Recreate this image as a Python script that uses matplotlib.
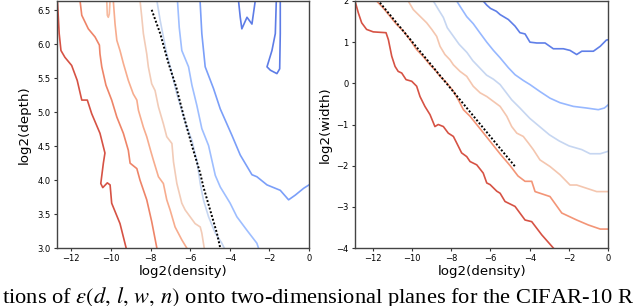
import numpy as np
import matplotlib
matplotlib.use("Agg")
import matplotlib.pyplot as plt

# ---------------- data ----------------
x_ticks = [-12, -10, -8, -6, -4, -2, 0]
left_yticks = [3.0, 3.5, 4.0, 4.5, 5.0, 5.5, 6.0, 6.5]
right_yticks = [-4, -3, -2, -1, 0, 1, 2]

# Left panel: log2(density) vs log2(depth) contour lines
L1_x = [-12.70, -12.61, -12.52, -12.32, -11.98, -11.70, -11.47, -11.19, -10.97, -10.55, -10.30, -10.38, -10.51, -10.41, -10.18, -10.04, -9.96, -9.54, -9.23]
L1_y = [6.65, 6.16, 5.91, 5.81, 5.69, 5.47, 5.18, 5.18, 4.98, 4.69, 4.40, 4.25, 3.95, 3.89, 3.96, 3.93, 3.66, 3.36, 3.00]
L2_x = [-11.56, -11.47, -11.14, -10.80, -10.58, -10.55, -10.46, -10.25, -9.96, -9.70, -9.37, -9.12, -9.03, -8.69, -8.53, -8.19, -7.94, -7.68]
L2_y = [6.65, 6.43, 6.23, 6.11, 5.99, 5.86, 5.67, 5.40, 5.18, 4.93, 4.69, 4.44, 4.25, 4.17, 4.00, 3.71, 3.39, 3.00]
L3_x = [-9.88, -9.79, -9.70, -9.54, -9.37, -9.12, -8.87, -8.69, -8.61, -8.36, -8.19, -7.98, -7.85, -7.60, -7.35, -7.18, -7.01, -6.76, -6.42, -6.17]
L3_y = [6.65, 6.30, 6.06, 5.91, 5.72, 5.47, 5.27, 5.18, 5.03, 4.78, 4.64, 4.42, 4.29, 4.05, 3.95, 3.71, 3.56, 3.31, 3.12, 3.00]
L3b_x = [-10.21, -10.18, -10.13, -10.08, -10.04]
L3b_y = [6.65, 6.43, 6.40, 6.45, 6.65]
L4_x = [-8.53, -8.44, -8.36, -8.19, -8.11, -7.94, -7.77, -7.60, -7.35, -7.18, -6.92, -6.84, -6.67, -6.42, -6.25, -6.00, -5.75, -5.49, -5.41, -5.29]
L4_y = [6.65, 6.40, 6.16, 5.86, 5.67, 5.42, 5.32, 5.08, 4.83, 4.64, 4.54, 4.27, 3.95, 3.66, 3.56, 3.46, 3.36, 3.31, 3.22, 3.00]
L5_x = [-7.68, -7.51, -7.35, -7.18, -6.92, -6.67, -6.42, -6.17, -5.91, -5.75, -5.66, -5.49, -5.33, -5.07, -4.73, -4.40, -4.28]
L5_y = [6.65, 6.35, 6.11, 5.86, 5.57, 5.27, 5.03, 4.78, 4.59, 4.39, 4.29, 3.95, 3.71, 3.46, 3.22, 3.07, 3.00]
L6_x = [-6.64, -6.55, -6.42, -6.08, -5.91, -5.66, -5.41, -5.07, -4.73, -4.48, -3.98, -3.64, -3.13, -2.63, -2.55]
L6_y = [6.65, 6.25, 5.91, 5.67, 5.40, 5.10, 4.76, 4.51, 4.07, 3.90, 3.66, 3.46, 3.26, 3.07, 3.00]
L7_x = [-5.50, -5.41, -5.24, -4.82, -4.48, -3.89, -3.47, -2.88, -2.63, -2.12, -1.45, -1.03, -0.69, -0.27, 0.0]
L7_y = [6.65, 6.16, 5.67, 5.35, 5.05, 4.66, 4.37, 4.08, 4.05, 3.93, 3.85, 3.71, 3.78, 3.88, 3.93]
L8a_x = [-3.56, -3.47, -3.39, -3.13, -2.88, -2.71]
L8a_y = [6.65, 6.40, 6.23, 6.40, 6.30, 6.65]
L8b_x = [-1.65, -1.70, -1.87, -2.12, -1.95, -1.62, -1.48, -1.45, -1.45]
L8b_y = [6.65, 6.16, 5.91, 5.67, 5.62, 5.57, 5.64, 6.16, 6.65]
Ldot_x = [-7.94, -7.51, -7.09, -6.70, -6.34, -5.91, -5.49, -5.33, -4.99, -4.65, -4.48]
Ldot_y = [6.51, 6.16, 5.72, 5.37, 4.96, 4.51, 4.10, 3.90, 3.56, 3.22, 3.00]

# Right panel: log2(density) vs log2(width) contour lines
R1_x = [-12.90, -12.73, -12.56, -12.31, -11.97, -11.32, -11.20, -11.03, -10.86, -10.70, -10.52, -10.30, -10.01, -9.76, -9.59, -9.34, -9.08, -8.83, -8.66, -8.40, -8.15, -7.89, -7.72, -7.47, -7.21, -7.04, -6.70, -6.37, -6.19, -6.02, -5.68, -5.51, -5.26, -4.75, -4.24, -3.90, -3.39, -2.80]
R1_y = [2.00, 1.71, 1.47, 1.31, 1.25, 1.23, 1.06, 0.66, 0.41, 0.29, 0.25, 0.09, 0.05, -0.07, -0.32, -0.56, -0.76, -1.05, -1.00, -1.05, -1.21, -1.29, -1.45, -1.69, -1.78, -1.90, -1.98, -2.18, -2.42, -2.46, -2.62, -2.67, -2.87, -2.99, -3.32, -3.36, -3.68, -4.00]
R2_x = [-11.80, -11.46, -11.12, -10.78, -10.44, -10.10, -9.76, -9.42, -9.08, -8.83, -8.57, -8.23, -7.89, -7.64, -7.38, -7.04, -6.50, -6.00, -5.50, -5.00, -4.60, -4.24, -3.90, -3.73, -2.97, -2.37, -1.61, -1.02, -0.41, 0.0]
R2_y = [2.00, 1.83, 1.63, 1.43, 1.27, 1.06, 0.82, 0.65, 0.45, 0.33, 0.17, 0.01, -0.19, -0.40, -0.64, -0.80, -1.12, -1.42, -1.72, -2.00, -2.25, -2.38, -2.38, -2.63, -2.75, -3.15, -3.32, -3.44, -3.54, -3.54]
R3_x = [-10.19, -9.93, -9.59, -9.25, -8.99, -8.74, -8.57, -8.32, -8.06, -7.89, -7.55, -7.21, -6.88, -6.53, -6.19, -5.85, -5.51, -5.17, -4.92, -4.66, -4.33, -4.07, -3.82, -3.48, -2.97, -2.46, -1.95, -1.61, -1.10, -0.59, 0.0]
R3_y = [2.00, 1.79, 1.63, 1.47, 1.31, 1.14, 0.90, 0.70, 0.57, 0.45, 0.29, 0.17, -0.07, -0.23, -0.32, -0.44, -0.56, -0.80, -1.05, -1.21, -1.29, -1.45, -1.61, -1.86, -2.02, -2.22, -2.47, -2.47, -2.55, -2.63, -2.63]
R4_x = [-8.91, -8.66, -8.40, -8.20, -7.90, -7.60, -7.20, -6.90, -6.50, -6.20, -5.85, -5.51, -4.92, -4.50, -4.00, -3.50, -3.00, -2.50, -2.00, -1.35, -0.93, -0.41, 0.0]
R4_y = [2.00, 1.80, 1.60, 1.35, 1.15, 0.95, 0.75, 0.55, 0.35, 0.20, 0.10, -0.03, -0.40, -0.60, -0.85, -1.05, -1.25, -1.40, -1.52, -1.61, -1.71, -1.71, -1.65]
R5_x = [-7.72, -7.55, -7.21, -6.88, -6.53, -6.19, -5.85, -5.51, -5.09, -4.75, -4.33, -3.99, -3.48, -2.97, -2.46, -1.78, -1.10, -0.51, -0.20, 0.0]
R5_y = [2.00, 1.87, 1.62, 1.45, 1.22, 1.00, 0.80, 0.62, 0.38, 0.21, 0.07, -0.03, -0.20, -0.36, -0.47, -0.56, -0.60, -0.64, -0.60, -0.52]
R6_x = [-6.37, -6.19, -6.00, -5.70, -5.51, -5.09, -4.75, -4.50, -4.24, -3.99, -3.64, -3.22, -2.80, -2.29, -1.95, -1.61, -1.35, -0.76, -0.41, -0.10, 0.0]
R6_y = [2.00, 1.90, 1.82, 1.75, 1.67, 1.55, 1.39, 1.23, 1.20, 1.00, 0.98, 0.98, 0.84, 0.84, 0.80, 0.70, 0.78, 0.78, 0.90, 1.05, 1.06]
Rdot_x = [-11.63, -4.75]
Rdot_y = [1.96, -2.02]

caption = r"tions of $\epsilon(d,\,l,\,w,\,n)$ onto two-dimensional planes for the CIFAR-10 R"

# ---------------- drawing ----------------
plt.rcParams['mathtext.fontset'] = 'stix'
cmap = plt.get_cmap('coolwarm')
def col(f):
    return cmap(f)

fig = plt.figure(figsize=(6.40, 3.06), dpi=100)
W, H = 640, 306
axL = fig.add_axes([57 / W, 1 - 248 / H, (309 - 57) / W, (248 - 1) / H])
axR = fig.add_axes([355 / W, 1 - 248 / H, (608.3 - 355) / W, (248 - 1) / H])

lw = 1.2
left_lines = [
    (L1_x, L1_y, 0.90), (L2_x, L2_y, 0.80), (L3_x, L3_y, 0.70), (L3b_x, L3b_y, 0.66),
    (L4_x, L4_y, 0.60), (L5_x, L5_y, 0.42), (L6_x, L6_y, 0.30), (L7_x, L7_y, 0.20),
    (L8a_x, L8a_y, 0.11), (L8b_x, L8b_y, 0.11),
]
for xs, ys, f in left_lines:
    axL.plot(xs, ys, color=col(f), lw=lw, solid_joinstyle='round')
axL.plot(Ldot_x, Ldot_y, color='black', lw=1.4, ls=(0, (1, 1)))

right_lines = [
    (R1_x, R1_y, 0.90), (R2_x, R2_y, 0.76), (R3_x, R3_y, 0.62),
    (R4_x, R4_y, 0.42), (R5_x, R5_y, 0.28), (R6_x, R6_y, 0.12),
]
for xs, ys, f in right_lines:
    axR.plot(xs, ys, color=col(f), lw=lw, solid_joinstyle='round')
axR.plot(Rdot_x, Rdot_y, color='black', lw=1.4, ls=(0, (1, 1)))

axL.set_xlim(-12.72, 0)
axL.set_ylim(3.0, 6.64)
axR.set_xlim(-12.9, 0)
axR.set_ylim(-4, 2)

axL.set_yticks(left_yticks)
axL.set_yticklabels([f"{v:.1f}" for v in left_yticks])
axR.set_yticks(right_yticks)
for ax in (axL, axR):
    ax.set_xticks(x_ticks)
    ax.tick_params(labelsize=6, length=2.5, width=0.8, pad=2, color='#333333')
    for s in ax.spines.values():
        s.set_color('#444444')
        s.set_linewidth(1.0)
    ax.set_xlabel("log2(density)", fontsize=9.6, labelpad=1)

axL.set_ylabel("log2(depth)", fontsize=9.6, labelpad=5)
axR.set_ylabel("log2(width)", fontsize=9.6, labelpad=3)

fig.text(2 / W, 1 - 303 / H, caption, fontsize=16.2, family='Liberation Serif',
         va='baseline', ha='left')

fig.savefig("out.png", dpi=100)
